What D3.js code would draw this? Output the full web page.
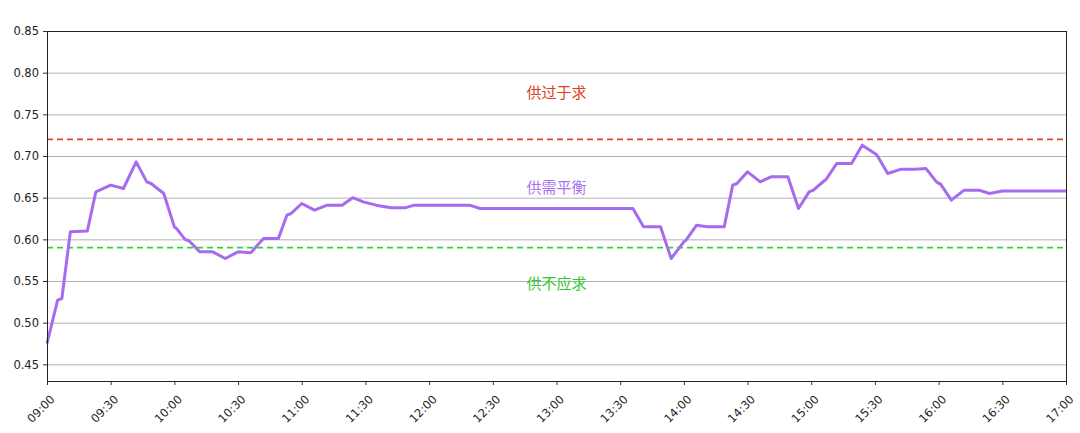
<!DOCTYPE html>
<html><head><meta charset="utf-8">
<script src="https://cdn.jsdelivr.net/npm/d3@7"></script>
<style>body{margin:0;background:#fff}svg{display:block}</style>
</head><body><svg id="c" width="1080" height="433"></svg>
<script>
const times = ["09:00","09:05","09:07","09:11","09:19","09:23","09:30","09:36","09:42","09:47","09:49","09:55","10:00","10:01","10:05","10:07","10:12","10:18","10:24","10:30","10:36","10:42","10:49","10:53","10:55","11:00","11:06","11:12","11:19","11:24","11:29","11:35","11:42","11:49","11:53","12:19","12:24","13:36","13:41","13:49","13:54","14:00","14:01","14:06","14:11","14:19","14:23","14:25","14:30","14:36","14:41","14:49","14:54","14:59","15:01","15:06","15:07","15:12","15:19","15:24","15:30","15:31","15:36","15:42","15:49","15:54","15:59","16:01","16:06","16:12","16:19","16:24","16:30","17:00"];
const values = [0.475,0.527,0.529,0.609,0.610,0.657,0.665,0.661,0.693,0.669,0.667,0.655,0.615,0.613,0.600,0.598,0.585,0.585,0.577,0.585,0.584,0.601,0.601,0.629,0.631,0.643,0.635,0.641,0.641,0.650,0.645,0.641,0.638,0.638,0.641,0.641,0.637,0.637,0.615,0.615,0.577,0.597,0.599,0.617,0.615,0.615,0.665,0.667,0.681,0.669,0.675,0.675,0.637,0.657,0.659,0.670,0.672,0.691,0.691,0.713,0.703,0.701,0.679,0.684,0.684,0.685,0.669,0.666,0.647,0.659,0.659,0.655,0.658,0.658];
const yTicks = [0.45,0.50,0.55,0.60,0.65,0.70,0.75,0.80,0.85];
const xTickLabels = ["09:00","09:30","10:00","10:30","11:00","11:30","12:00","12:30","13:00","13:30","14:00","14:30","15:00","15:30","16:00","16:30","17:00"];
const upperLine = 0.72, lowerLine = 0.59;
const zoneLabels = ["供过于求","供需平衡","供不应求"];
const zoneLabelValues = [0.775,0.660,0.545];
const zoneLabelTime = "13:00";

const parse = d3.timeParse("%H:%M");
const fmt = d3.timeFormat("%H:%M");
const svg = d3.select("#c");
const L=47, R=1066, T=31, B=381;
const x = d3.scaleTime().domain([parse("09:00"), parse("17:00")]).range([L,R]);
const y = d3.scaleLinear().domain([0.43,0.85]).range([B,T]);
const font = "'Noto Sans CJK SC', 'DejaVu Sans', sans-serif";

// grid
svg.append("g").selectAll("line").data(yTicks).join("line")
  .attr("x1",L).attr("x2",R).attr("y1",d=>y(d)+0.5).attr("y2",d=>y(d)+0.5)
  .attr("stroke","#b4b4b4").attr("stroke-width",1);

// reference lines
[[upperLine,"#e0442a"],[lowerLine,"#2ed62e"]].forEach(([v,c])=>{
  svg.append("line").attr("x1",L).attr("x2",R).attr("y1",y(v)).attr("y2",y(v))
    .attr("stroke",c).attr("stroke-width",1.6).attr("stroke-dasharray","6,4");
});

// zone labels
const zcolors = ["#dc4020","#a873ee","#2ec82e"];
svg.append("g").selectAll("text").data(zoneLabels).join("text")
  .attr("x",x(parse(zoneLabelTime))).attr("y",(d,i)=>y(zoneLabelValues[i]))
  .attr("text-anchor","middle").attr("dominant-baseline","middle")
  .attr("font-family",font).attr("font-size",15).attr("fill",(d,i)=>zcolors[i]).text(d=>d);

// line
const pts = times.map((t,i)=>({t:parse(t),v:values[i]}));
svg.append("path").datum(pts)
  .attr("d", d3.line().x(d=>x(d.t)).y(d=>y(d.v)))
  .attr("fill","none").attr("stroke","#a66cf0").attr("stroke-width",3).attr("stroke-linejoin","round");

// axes
const ya = svg.append("g").attr("transform",`translate(${L},0)`)
  .call(d3.axisLeft(y).tickValues(yTicks).tickFormat(d3.format(".2f")).tickSize(4).tickPadding(4));
const xa = svg.append("g").attr("transform",`translate(0,${B})`)
  .call(d3.axisBottom(x).tickValues(xTickLabels.map(parse)).tickFormat(fmt).tickSize(4).tickPadding(3));
[ya,xa].forEach(g=>{
  g.select(".domain").remove();
  g.selectAll("line").attr("stroke","#333");
  g.selectAll("text").attr("font-family","'DejaVu Sans', sans-serif").attr("font-size",11.5).attr("fill","#222");
});
xa.selectAll("text").attr("text-anchor","end").attr("dy","0")
  .attr("transform","translate(3,14) rotate(-45)");

// frame
svg.append("rect").attr("x",L+0.5).attr("y",T+0.5).attr("width",R-L).attr("height",B-T)
  .attr("fill","none").attr("stroke","#222").attr("stroke-width",1);
</script></body></html>
